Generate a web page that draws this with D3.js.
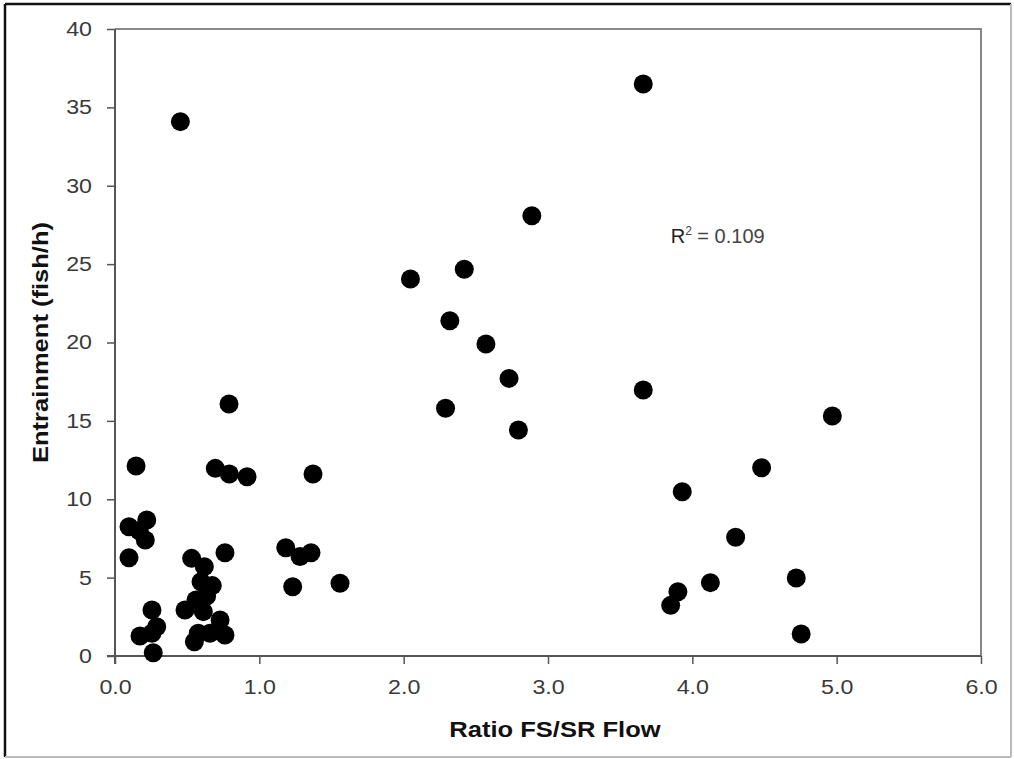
<!DOCTYPE html>
<html>
<head>
<meta charset="utf-8">
<script src="https://cdn.jsdelivr.net/npm/d3@7"></script>
<style>
  body { margin: 0; background: #fff; }
  text { font-family: "Liberation Sans", Arial, sans-serif; }
</style>
</head>
<body>
<svg id="canvas" width="1014" height="759"></svg>
<script>
// ratio FS/SR flow vs entrainment
const ratio = [0.453, 3.66, 2.888, 2.42, 2.047, 2.32, 2.57, 2.73, 2.29, 2.795,
        3.66, 4.97, 4.48, 3.93, 4.30, 4.125, 3.90, 3.85, 4.72, 4.754,
        0.79, 0.146, 0.695, 0.792, 0.915, 1.372, 0.22, 0.097, 0.168, 0.21,
        0.097, 0.531, 0.762, 1.183, 1.282, 1.358, 1.231, 1.559, 0.619, 0.596,
        0.674, 0.635, 0.561, 0.612, 0.485, 0.256, 0.289, 0.256, 0.173, 0.265,
        0.728, 0.762, 0.658, 0.577, 0.55]
const entrainment = [34.09, 36.49, 28.09, 24.67, 24.05, 21.39, 19.9, 17.71, 15.8, 14.42,
        16.97, 15.31, 12.01, 10.48, 7.57, 4.68, 4.10, 3.23, 4.98, 1.40,
        16.08, 12.12, 11.97, 11.61, 11.44, 11.61, 8.68, 8.25, 7.99, 7.40,
        6.27, 6.23, 6.59, 6.91, 6.34, 6.59, 4.42, 4.64, 5.70, 4.74,
        4.49, 3.83, 3.57, 2.83, 2.93, 2.93, 1.87, 1.45, 1.28, 0.21,
        2.30, 1.34, 1.45, 1.45, 0.91]
const xTicks = [0, 1, 2, 3, 4, 5, 6]
const yTicks = [0, 5, 10, 15, 20, 25, 30, 35, 40]
const r2Label = {x: 3.85, y: 26.35, text: "0.109"}

const w = 1014, h = 759
const svg = d3.select("#canvas")

const x = d3.scaleLinear().domain([0, 6]).range([115, 981])
const y = d3.scaleLinear().domain([0, 40]).range([656, 29])

const stretch = 1.16  // picture text is a bit wider than Arial

// outer frame
svg.append("line").attr("x1", 5).attr("y1", 4).attr("x2", 1011).attr("y2", 4)
        .attr("stroke", "#111").attr("stroke-width", 2.5)
svg.append("line").attr("x1", 5).attr("y1", 4).attr("x2", 5).attr("y2", 757)
        .attr("stroke", "#111").attr("stroke-width", 2.5)
svg.append("line").attr("x1", 1011).attr("y1", 4).attr("x2", 1011).attr("y2", 757)
        .attr("stroke", "#bbb").attr("stroke-width", 2)
svg.append("line").attr("x1", 5).attr("y1", 757).attr("x2", 1011).attr("y2", 757)
        .attr("stroke", "#bbb").attr("stroke-width", 2)

// plot area top + right border
svg.append("path")
        .attr("d", `M${x(0)},${y(40)}H${x(6)}V${y(0)}`)
        .attr("fill", "none").attr("stroke", "#888").attr("stroke-width", 2)

function widen(sel) {
        sel.each(function () {
                const len = this.getComputedTextLength()
                d3.select(this).attr("textLength", len * stretch).attr("lengthAdjust", "spacingAndGlyphs")
        })
}

// axes
const xAxis = svg.append("g").attr("transform", `translate(0,${y(0)})`)
        .call(d3.axisBottom(x).tickValues(xTicks).tickFormat(d3.format(".1f")).tickSize(8).tickPadding(16))
const yAxis = svg.append("g").attr("transform", `translate(${x(0)},0)`)
        .call(d3.axisLeft(y).tickValues(yTicks).tickSize(8).tickPadding(15))

for (const ax of [xAxis, yAxis]) {
        ax.select(".domain").attr("stroke", "#555").attr("stroke-width", 2)
        ax.selectAll(".tick line").attr("stroke", "#555").attr("stroke-width", 1.5)
        ax.selectAll(".tick text").attr("fill", "#3a3a3a")
                .style("font-size", "20px").attr("font-family", "Liberation Sans, Arial, sans-serif")
        widen(ax.selectAll(".tick text"))
}
// the left axis runs slightly below 0 with the bottom axis crossing it
xAxis.select(".domain").attr("d", `M${x(0) - 8},0H${x(6)}`)
yAxis.select(".domain").attr("d", `M0,${y(40)}V${y(0) + 8}`)

// points
svg.append("g").selectAll("circle")
        .data(d3.zip(ratio, entrainment))
        .join("circle")
        .attr("cx", d => x(d[0]))
        .attr("cy", d => y(d[1]))
        .attr("r", 9.5)
        .attr("fill", "#000")

// axis titles
svg.append("text")
        .attr("x", (x(0) + x(6)) / 2 + 7)
        .attr("y", 737)
        .attr("text-anchor", "middle")
        .style("font-size", "22px").style("font-weight", "bold").attr("fill", "#111")
        .text("Ratio FS/SR Flow")
        .call(widen)

svg.append("text")
        .attr("transform", `translate(48,${(y(0) + y(40)) / 2}) rotate(-90)`)
        .attr("text-anchor", "middle")
        .style("font-size", "22px").style("font-weight", "bold").attr("fill", "#111")
        .text("Entrainment (fish/h)")
        .call(widen)

// R squared note
const r2 = svg.append("text")
        .attr("x", x(r2Label.x))
        .attr("y", y(r2Label.y))
        .attr("font-family", "Lato, 'Open Sans', sans-serif")
        .style("font-size", "20px").attr("fill", "#444")
r2.append("tspan").attr("fill", "#222").text("R")
r2.append("tspan").attr("dy", -8).style("font-size", "12px").text("2")
r2.append("tspan").attr("dy", 8).text(" = " + r2Label.text)
</script>
</body>
</html>
